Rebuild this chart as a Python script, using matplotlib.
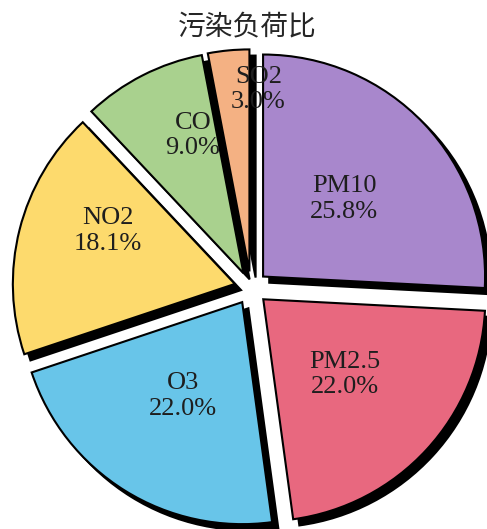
import numpy as np
import matplotlib
matplotlib.use("Agg")
import matplotlib.pyplot as plt

# ---- data ----
categories = ["PM10", "PM2.5", "O3", "NO2", "CO", "SO2"]
shares = [25.8, 22.0, 22.0, 18.1, 9.0, 3.0]
colors = ["#A887CC", "#E8687F", "#68C5E9", "#FDDA6D", "#A9D18E", "#F4B183"]
title = "污染负荷比"

# label layout tweaks (radial distance as fraction of radius, angular shift in degrees)
label_dist = [0.505, 0.50, 0.50, 0.62, 0.66, 0.82]
label_shift = [0.2, 0.0, -0.4, -8.5, -6.8, -8.2]

W, H, DPI = 487, 529, 100
fig = plt.figure(figsize=(W / DPI, H / DPI), dpi=DPI)
ax = fig.add_axes([0, 0, 1, 1])

R_px = 222.0
cx_px, cy_px = 251.0, 288.0

wedges, _ = ax.pie(
    shares,
    colors=colors,
    startangle=90,
    counterclock=False,
    explode=[0.075] * len(shares),
    radius=1.0,
    wedgeprops=dict(edgecolor="black", linewidth=1.5),
    shadow=dict(ox=0.02, oy=-0.02, facecolor="black", edgecolor="black", alpha=1.0),
)

total = sum(shares)
for w, cat, v, d, s in zip(wedges, categories, shares, label_dist, label_shift):
    mid = np.deg2rad((w.theta1 + w.theta2) / 2 + s)
    x = w.center[0] + d * w.r * np.cos(mid)
    y = w.center[1] + d * w.r * np.sin(mid)
    ax.text(x, y, f"{cat}\n{v / total * 100:.1f}%", ha="center", va="center",
            fontsize=19, family=["Liberation Serif", "DejaVu Serif"],
            color="#1e1e1e", linespacing=1.2, zorder=5)

ax.set_xlim(-cx_px / R_px, (W - cx_px) / R_px)
ax.set_ylim(-(H - cy_px) / R_px, cy_px / R_px)
ax.set_aspect("auto")
ax.axis("off")

fig.text(247.5 / W, 1 - 26 / H, title, ha="center", va="center", fontsize=20,
         family=["Noto Sans CJK SC", "DejaVu Sans"], color="#262626")

fig.savefig("out.png", dpi=DPI)
